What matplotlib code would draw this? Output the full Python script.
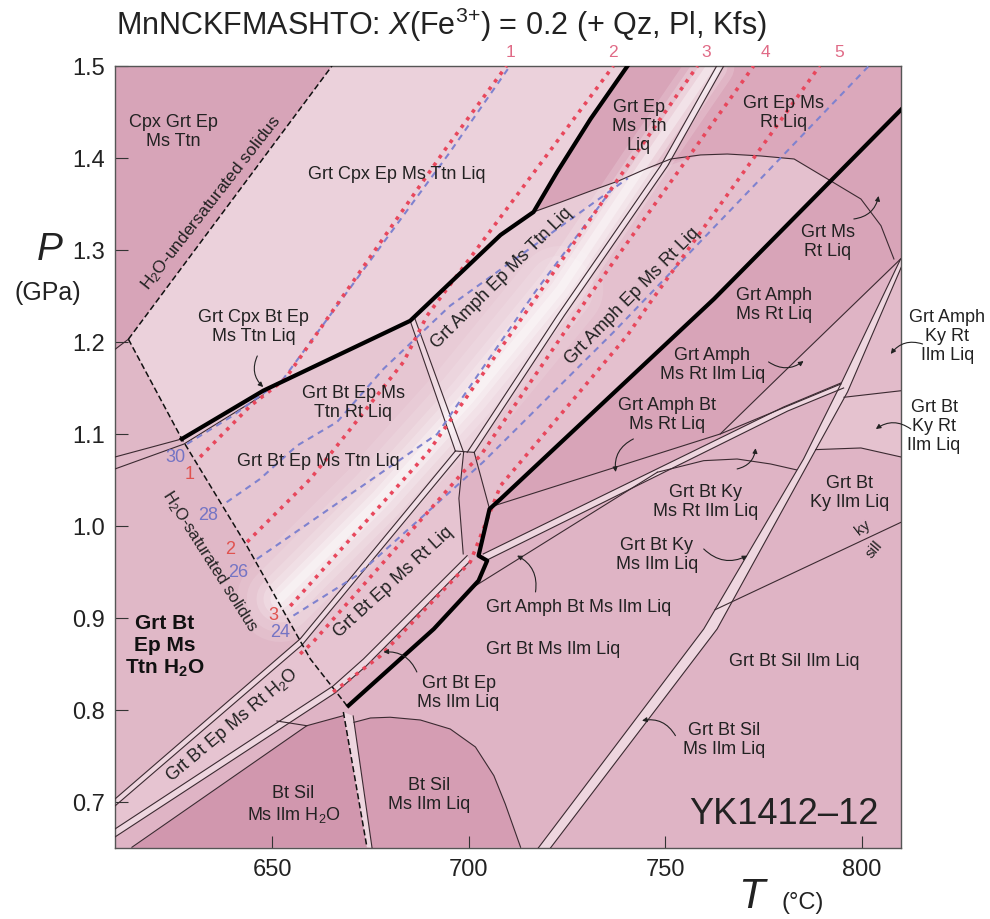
import matplotlib
matplotlib.use("Agg")
import matplotlib.pyplot as plt
from matplotlib.ticker import FormatStrFormatter

plt.rcParams['font.family'] = ['Liberation Sans', 'DejaVu Sans']
plt.rcParams['mathtext.fontset'] = 'custom'
plt.rcParams['mathtext.rm'] = 'Liberation Sans'
plt.rcParams['mathtext.it'] = 'Liberation Sans:italic'
plt.rcParams['mathtext.bf'] = 'Liberation Sans:bold'

# ---------------- axis ----------------
T_lim = (610, 810)
P_lim = (0.65, 1.5)
T_ticks = [650, 700, 750, 800]
P_ticks = [0.7, 0.8, 0.9, 1.0, 1.1, 1.2, 1.3, 1.4, 1.5]

# ---------------- boundaries (T degC, P GPa) ----------------
undersat_T = [613.4, 665.2]
undersat_P = [1.203, 1.5]
leftseg_T = [610, 613.4]
leftseg_P = [1.192, 1.203]
satsol_T = [613.4, 627.0, 643.5, 659.7, 669.0]
satsol_P = [1.203, 1.0946, 0.9786, 0.8554, 0.8047]
satlow_T = [668.1, 674.1]
satlow_P = [0.7978, 0.6508]
satlow2_T = [670.6, 675.4]
satlow2_P = [0.7935, 0.65]

thick1_T = [627.0, 647.7, 685.1, 708.1, 716.5, 722.5, 731.0, 740.4]
thick1_P = [1.0946, 1.147, 1.223, 1.3163, 1.3413, 1.3848, 1.4424, 1.5]
thick2_T = [669.4, 691.1, 702.5, 704.7, 702.5, 705.3, 708.1, 762.4, 810.2]
thick2_P = [0.8047, 0.888, 0.9405, 0.9623, 0.9677, 1.0185, 1.0293, 1.2467, 1.4533]

linea_T = [610, 627.0]
linea_P = [1.075, 1.0946]
lineb_T = [610, 627.5, 647.7]
lineb_P = [1.062, 1.089, 1.1424]

kneeA_T = [685.1, 696.6]
kneeA_P = [1.223, 1.0815]
kneeB_T = [686.3, 698.7]
kneeB_P = [1.2254, 1.08]

pairUa_T = [610, 657.1, 696.6]
pairUa_P = [0.7033, 0.8772, 1.0815]
pairUb_T = [610, 657.6, 697.9]
pairUb_P = [0.6957, 0.8707, 1.0783]
pairLa_T = [610, 665.5, 673.2, 699.6]
pairLa_P = [0.6707, 0.8261, 0.8554, 0.9677]
pairLb_T = [610, 666.0, 673.9, 700.4]
pairLb_P = [0.662, 0.8185, 0.8478, 0.962]

quadL_T = [698.7, 697.5, 698.6]
quadL_P = [1.08, 1.03, 0.9696]
quadR_T = [701.4, 705.3]
quadR_P = [1.08, 1.0185]
quadTop_T = [696.6, 701.4]
quadTop_P = [1.0815, 1.08]

pair3a_T = [699.6, 722.5, 748.8, 763.1]
pair3a_P = [1.08, 1.2286, 1.3913, 1.5]
pair3b_T = [701.4, 724.3, 750.6, 764.9]
pair3b_P = [1.08, 1.2286, 1.3913, 1.5]

ellipse_T = [716.5, 723.3, 731.0, 738.1, 745.0, 751.4, 759.0, 765.8, 774.3, 782.8,
             791.3, 799.8, 804.9, 808.2]
ellipse_P = [1.3413, 1.3518, 1.3641, 1.375, 1.388, 1.3989, 1.4033, 1.4043, 1.4022, 1.3989,
             1.3772, 1.3554, 1.3264, 1.2902]

L1_T = [705.5, 764.0, 794.7]
L1_P = [1.0207, 1.1, 1.1543]
L2_T = [764.0, 783.6, 809.9]
L2_P = [1.1, 1.1815, 1.2902]
D1a_T = [703.7, 780.1, 794.7]
D1a_P = [0.9696, 1.1293, 1.1554]
D1b_T = [704.2, 781.2, 795.4]
D1b_P = [0.962, 1.125, 1.15]
L3_T = [700.4, 748.0]
L3_P = [0.9315, 1.0584]
A2a_T = [748.0, 759.8, 768.3, 776.8, 783.4]
A2a_P = [1.0584, 1.071, 1.0728, 1.0674, 1.061]
A2b_T = [788.3, 799.8, 810]
A2b_P = [1.083, 1.0848, 1.075]
redge_T = [795.5, 810]
redge_P = [1.1399, 1.147]
D2a_T = [717.7, 759.8, 785.2, 794.7, 809.9]
D2a_P = [0.65, 0.888, 1.0728, 1.1543, 1.2902]
D2b_T = [720.8, 763.2, 787.0, 796.4, 810.2]
D2b_P = [0.65, 0.888, 1.0728, 1.1457, 1.2826]
kysill_T = [762.7, 810]
kysill_P = [0.909, 1.004]
lineM_T = [614.3, 658.8, 668.1]
lineM_P = [0.6508, 0.7829, 0.7938]
lineM2_T = [651.2, 658.8]
lineM2_P = [0.788, 0.7829]
dome_T = [670.8, 675.0, 680.0, 687.7, 695.3, 701.7, 706.4, 709.3, 713.2]
dome_P = [0.7866, 0.7913, 0.7921, 0.7891, 0.7793, 0.7598, 0.7286, 0.6978, 0.6508]

# ---------------- isopleths ----------------
red1_T = [631.65, 644.4, 653.3, 694.1, 709.6]
red1_P = [1.075, 1.1304, 1.1598, 1.4098, 1.5]
red2_T = [643.6, 659.7, 669.9, 683.4, 689.4, 736.8]
red2_P = [0.9826, 1.0511, 1.1054, 1.1783, 1.2286, 1.5]
red3_T = [654.6, 689.7, 713.9, 736.8, 758.2]
red3_P = [0.913, 1.0804, 1.2283, 1.3696, 1.5]
red4_T = [657.1, 660.4, 698.6, 703.0, 730.1, 772.5]
red4_P = [0.8609, 0.8739, 1.0587, 1.0765, 1.2467, 1.5]
red5_T = [665.5, 677.5, 700.4, 708.1, 740.3, 746.8, 789.3]
red5_P = [0.8196, 0.8587, 0.9609, 1.0438, 1.2068, 1.2467, 1.5]
blue30_T = [628.3, 640.0, 652.8, 695.0, 710.5]
blue30_P = [1.0891, 1.120, 1.1598, 1.405, 1.5]
blue28_T = [638.4, 646.9, 656.3, 666.5, 678.3, 695.3, 740.5]
blue28_P = [1.0258, 1.0511, 1.0873, 1.113, 1.1707, 1.2395, 1.378]
blue26_T = [646.1, 692.0, 717.0, 738.0]
blue26_P = [0.9641, 1.1, 1.255, 1.375]
blue24_T = [655.4, 671.5, 703.7, 736.9, 801.8]
blue24_P = [0.9026, 0.946, 1.0696, 1.2109, 1.5]

iso_top_text = ["1", "2", "3", "4", "5"]
iso_top_T = [710.6, 736.8, 760.3, 775.6, 794.2]
iso_red_text = ["1", "2", "3"]
iso_red_T = [629.1, 639.3, 650.2]
iso_red_P = [1.0565, 0.975, 0.904]
iso_blue_text = ["30", "28", "26", "24"]
iso_blue_T = [625.3, 633.7, 641.3, 652.0]
iso_blue_P = [1.075, 1.013, 0.95, 0.885]

# white highlight band centre line
glow_T = [652.0, 677.5, 700.4, 723.3, 743.7, 761.6]
glow_P = [0.9207, 1.0293, 1.138, 1.2576, 1.388, 1.5]

# ---------------- labels ----------------
lab_text = ["Cpx Grt Ep\nMs Ttn", "Grt Cpx Ep Ms Ttn Liq", "Grt Cpx Bt Ep\nMs Ttn Liq",
            "Grt Bt Ep Ms\nTtn Rt Liq", "Grt Bt Ep Ms Ttn Liq", "Grt Amph Ep Ms Ttn Liq",
            "Grt Ep\nMs Ttn\nLiq", "Grt Ep Ms\nRt Liq", "Grt Amph Ep Ms Rt Liq",
            "Grt Ms\nRt Liq", "Grt Amph\nMs Rt Liq", "Grt Amph\nMs Rt Ilm Liq",
            "Grt Amph Bt\nMs Rt Liq", "Grt Amph\nKy Rt\nIlm Liq", "Grt Bt\nKy Rt\nIlm Liq",
            "Grt Bt\nKy Ilm Liq", "Grt Bt Ky\nMs Rt Ilm Liq", "Grt Bt Ky\nMs Ilm Liq",
            "Grt Amph Bt Ms Ilm Liq", "Grt Bt Ms Ilm Liq", "Grt Bt Ep\nMs Ilm Liq",
            "Grt Bt Ep Ms Rt Liq", "Grt Bt Ep Ms Rt H$_2$O", "Bt Sil\nMs Ilm H$_2$O",
            "Bt Sil\nMs Ilm Liq", "Grt Bt Sil Ilm Liq", "Grt Bt Sil\nMs Ilm Liq",
            "H$_2$O-undersaturated solidus", "H$_2$O-saturated solidus", "ky", "sill"]
lab_T = [624.9, 681.8, 645.2, 670.6, 661.7, 708.3, 743.3, 780.2, 741.6, 791.3, 777.7,
         762.0, 750.5, 821.8, 818.4, 796.8, 760.3, 747.9, 727.9, 721.6, 697.4, 680.8,
         639.7, 655.4, 689.8, 782.8, 764.9, 634.6, 634.2, 800.2, 803.2]
lab_P = [1.4297, 1.3826, 1.2174, 1.1348, 1.071, 1.2707, 1.4352, 1.4497, 1.2503, 1.3101,
         1.2413, 1.176, 1.1217, 1.2069, 1.109, 1.0366, 1.0275, 0.9696, 0.913, 0.8663,
         0.8192, 0.9402, 0.7848, 0.6978, 0.7087, 0.8536, 0.7685, 1.3518, 0.962, 0.9986, 0.975]
lab_rot = [0, 0, 0, 0, 0, 45, 0, 0, 45.6, 0, 0, 0, 0, 0, 0, 0, 0, 0, 0, 0, 0, 42.5,
           40, 0, 0, 0, 0, 52, -57.6, 38, 50]

# squiggle arrows: tail -> tip
arr_tail_T = [646.2, 798.0, 776.3, 741.9, 815.5, 812.5, 768.3, 759.8, 717.0, 686.8, 752.6]
arr_tail_P = [1.1848, 1.3337, 1.1783, 1.0946, 1.1978, 1.1054, 1.062, 0.975, 0.9283, 0.8413, 0.7721]
arr_tip_T = [647.7, 804.3, 785.2, 737.4, 807.4, 803.6, 773.0, 770.9, 712.3, 678.3, 744.1]
arr_tip_P = [1.151, 1.3587, 1.1793, 1.0587, 1.187, 1.1054, 1.0845, 0.9677, 0.9678, 0.863, 0.7884]

# ---------------- colours ----------------
c_base = '#dfb4c5'
c_line = '#3b2a31'
c_red = '#e8475c'
c_blue = '#7f82cf'
c_band = '#eed6df'


def poly(*parts):
    T, P = [], []
    for t, p in parts:
        T += list(t)
        P += list(p)
    return T, P


fig = plt.figure(figsize=(9.9, 9.2), dpi=100)
ax = fig.add_axes([0.1162, 0.0772, 0.7939, 0.85])
ax.set_xlim(*T_lim)
ax.set_ylim(*P_lim)
ax.set_facecolor(c_base)

fills = [
    (poly(([610, 613.4, 665.2, 610], [1.192, 1.203, 1.5, 1.5])), '#d7a4b8'),
    (poly(([613.4], [1.203]), (thick1_T, thick1_P), ([665.2], [1.5])), '#ebd1db'),
    (poly((thick1_T[4:], thick1_P[4:]), ([763.1, 748.8, 738.1, 723.3], [1.5, 1.3913, 1.375, 1.3518])), '#d8a4b8'),
    (poly(([764.9, 750.6, 759.0, 765.8, 774.3, 782.8, 791.6, 810.2, 810.2],
           [1.5, 1.395, 1.4033, 1.4043, 1.4022, 1.3989, 1.3755, 1.4533, 1.5])), '#dba8bb'),
    (poly(([791.6, 799.8, 804.9, 808.2, 810.2, 810.2], [1.3755, 1.3554, 1.3264, 1.2902, 1.2902, 1.4533])), '#d39cb1'),
    (poly((pair3b_T[:3], pair3b_P[:3]), ([759.0, 765.8, 774.3, 782.8, 791.6, 762.4, 708.1, 705.3],
                                         [1.4033, 1.4043, 1.4022, 1.3989, 1.3755, 1.2467, 1.0293, 1.0185])), '#e4c0ce'),
    (poly(([685.1, 708.1, 716.5, 723.3, 731.0, 738.1, 745.0, 748.8, 722.5, 699.6, 696.6],
           [1.223, 1.3163, 1.3413, 1.3518, 1.3641, 1.375, 1.388, 1.3913, 1.2286, 1.08, 1.0815])), '#e8cbd6'),
    (poly(([627, 647.7, 685.1, 696.6, 657.1, 643.5], [1.0946, 1.147, 1.223, 1.0815, 0.8772, 0.9786])), '#e6c6d2'),
    (poly(([610, 613.4, 627, 643.5, 657.1, 610], [1.192, 1.203, 1.0946, 0.9786, 0.8772, 0.7033])), '#e0b8c7'),
    (poly((pairUa_T, pairUa_P), (quadL_T, quadL_P), (pairLa_T[::-1], pairLa_P[::-1])), '#e6c4d1'),
    (poly(([614.3, 658.8, 668.1, 674.1], [0.65, 0.7829, 0.7938, 0.6508])), '#d197ae'),
    (poly((dome_T, dome_P), ([675.4], [0.65])), '#d59db3'),
    (poly(([705.3, 708.1, 762.4, 810.2, 810.2, 783.6, 764.0, 705.5], [1.0185, 1.0293, 1.2467, 1.4533, 1.2902, 1.1815, 1.1, 1.0207])), '#d8a4b8'),
    (poly(([705.5, 764.0, 794.7, 780.1, 703.7, 702.5], [1.0207, 1.1, 1.1543, 1.1293, 0.9696, 0.9677])), '#dcabbe'),
    (poly(([796.4, 810.2, 810.2, 795.5], [1.1457, 1.2826, 1.147, 1.1399])), '#e2bbca'),
    (poly(([795.5, 810.2, 810.2, 799.8, 788.3], [1.1399, 1.147, 1.075, 1.0848, 1.083])), '#e5c2cf'),
]
for (T, P), c in fills:
    ax.fill(T, P, color=c, lw=0, zorder=1)

# narrow double-line fields
for (ta, pa), (tb, pb) in [((pair3a_T, pair3a_P), (pair3b_T, pair3b_P)),
                           ((pairUa_T, pairUa_P), (pairUb_T, pairUb_P)),
                           ((pairLa_T, pairLa_P), (pairLb_T, pairLb_P)),
                           ((D1a_T, D1a_P), (D1b_T, D1b_P)),
                           ((D2a_T, D2a_P), (D2b_T, D2b_P)),
                           ((kneeA_T, kneeA_P), (kneeB_T, kneeB_P)),
                           ((satlow_T, satlow_P), (satlow2_T, satlow2_P))]:
    T, P = poly((ta, pa), (tb[::-1], pb[::-1]))
    ax.fill(T, P, color=c_band, lw=0, zorder=1.5)

# white glow
for lw, a in [(62, 0.10), (48, 0.12)]:
    ax.plot(glow_T[:4], glow_P[:4], color='white', lw=lw, alpha=a,
            solid_capstyle='round', solid_joinstyle='round', zorder=2)
for lw, a in [(34, 0.16), (24, 0.2), (14, 0.3), (6, 0.35)]:
    ax.plot(glow_T, glow_P, color='white', lw=lw, alpha=a,
            solid_capstyle='round', solid_joinstyle='round', zorder=2)

# thin boundaries
thin = [(leftseg_T, leftseg_P), (linea_T, linea_P), (lineb_T, lineb_P),
        (kneeA_T, kneeA_P), (kneeB_T, kneeB_P), (pairUa_T, pairUa_P), (pairUb_T, pairUb_P),
        (pairLa_T, pairLa_P), (pairLb_T, pairLb_P), (quadL_T, quadL_P), (quadR_T, quadR_P),
        (quadTop_T, quadTop_P), (pair3a_T, pair3a_P), (pair3b_T, pair3b_P),
        (ellipse_T, ellipse_P), (L1_T, L1_P), (L2_T, L2_P), (D1a_T, D1a_P), (D1b_T, D1b_P),
        (L3_T, L3_P), (A2a_T, A2a_P), (A2b_T, A2b_P), (redge_T, redge_P),
        (D2a_T, D2a_P), (D2b_T, D2b_P), (kysill_T, kysill_P), (lineM_T, lineM_P),
        (lineM2_T, lineM2_P), (dome_T, dome_P), (satlow2_T, satlow2_P)]
for T, P in thin:
    ax.plot(T, P, color=c_line, lw=0.8, zorder=3, solid_joinstyle='round')

for T, P in [(undersat_T, undersat_P), (satsol_T, satsol_P), (satlow_T, satlow_P)]:
    ax.plot(T, P, color='#111111', lw=1.1, ls=(0, (4, 2)), zorder=3)

# isopleths
for T, P in [(blue30_T, blue30_P), (blue28_T, blue28_P), (blue26_T, blue26_P), (blue24_T, blue24_P)]:
    ax.plot(T, P, color=c_blue, lw=1.5, ls=(0, (3, 2.5)), zorder=4)
for T, P in [(red1_T, red1_P), (red2_T, red2_P), (red3_T, red3_P), (red4_T, red4_P), (red5_T, red5_P)]:
    ax.plot(T, P, color=c_red, lw=2.6, ls=(0, (1, 1.6)), zorder=4.2)

# thick boundaries
for T, P in [(thick1_T, thick1_P), (thick2_T, thick2_P)]:
    ax.plot(T, P, color='black', lw=3.0, zorder=5, solid_joinstyle='round')

# arrows
for tT, tP, hT, hP in zip(arr_tail_T, arr_tail_P, arr_tip_T, arr_tip_P):
    ax.annotate('', xy=(hT, hP), xytext=(tT, tP), annotation_clip=False,
                arrowprops=dict(arrowstyle='-|>', color='#222222', lw=0.8,
                                mutation_scale=7, shrinkA=0, shrinkB=0,
                                connectionstyle='arc3,rad=0.35'), zorder=6)

# field labels
for s, t, p, r in zip(lab_text, lab_T, lab_P, lab_rot):
    if 'undersaturated' in s:
        fs = 12.5
    elif 'solidus' in s:
        fs = 12
    elif s in ('ky', 'sill'):
        fs = 11
    else:
        fs = 13
    ax.text(t, p, s, ha='center', va='center', rotation=r, rotation_mode='anchor',
            fontsize=fs, color='#222222', linespacing=1.15, zorder=7)
ax.text(622.7, 0.87, "Grt Bt\nEp Ms\nTtn H$_\\mathbf{2}$O", ha='center', va='center',
        fontsize=15, fontweight='bold', color='#111111', linespacing=1.2, zorder=7)
ax.text(780.2, 0.687, "YK1412\u201312", ha='center', va='center', fontsize=26,
        color='#222222', zorder=7)

# isopleth labels
for s, t in zip(iso_top_text, iso_top_T):
    ax.text(t, 1.5152, s, ha='center', va='center', fontsize=12.5, color='#e06a86')
for s, t, p in zip(iso_red_text, iso_red_T, iso_red_P):
    ax.text(t, p, s, ha='center', va='center', fontsize=13, color='#e0524f', zorder=7)
for s, t, p in zip(iso_blue_text, iso_blue_T, iso_blue_P):
    ax.text(t, p, s, ha='center', va='center', fontsize=13, color='#7474c4', zorder=7)

# axes styling
ax.set_xticks(T_ticks)
ax.set_yticks(P_ticks)
ax.yaxis.set_major_formatter(FormatStrFormatter('%.1f'))
ax.tick_params(direction='in', length=9, width=0.8, labelsize=17, pad=7, colors='#333333',
               labelcolor='#222222')
for sp in ax.spines.values():
    sp.set_color('#555555')
    sp.set_linewidth(1.0)

fig.text(441 / 990, 1 - 25 / 920, "MnNCKFMASHTO: $X$(Fe$^{3\\!+}\\!$) = 0.2 (+ Qz, Pl, Kfs)",
         ha='center', va='center', fontsize=22, color='#222222')
fig.text(50 / 990, 1 - 250 / 920, "$P$", ha='center', va='center', fontsize=28, color='#222222')
fig.text(48 / 990, 1 - 293 / 920, "(GPa)", ha='center', va='center', fontsize=18, color='#222222')
fig.text(753 / 990, 1 - 897 / 920, "$T$", ha='center', va='center', fontsize=31, color='#222222')
fig.text(803 / 990, 1 - 903 / 920, "(\u00b0C)", ha='center', va='center', fontsize=17, color='#222222')

fig.savefig("out.png", dpi=100)
